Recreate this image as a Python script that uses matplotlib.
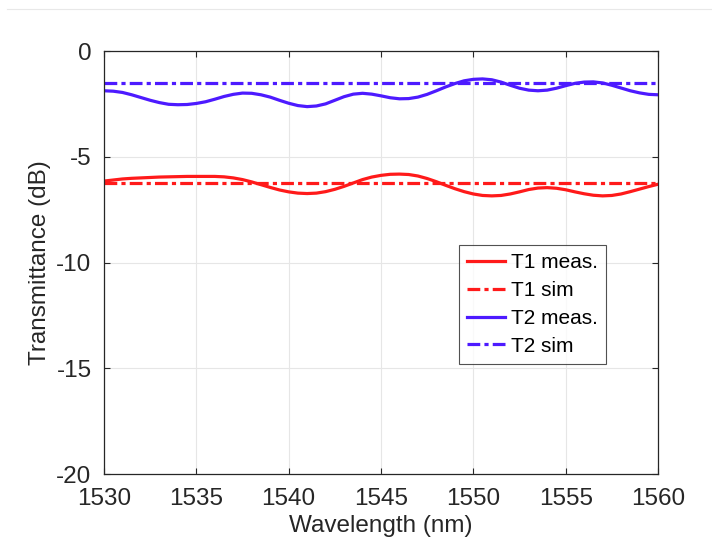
import matplotlib
matplotlib.use("Agg")
import matplotlib.pyplot as plt
from matplotlib.lines import Line2D
import numpy as np

# Wavelength grid (nm), values every 0.5 nm
wavelength = np.arange(1530, 1560.25, 0.5)

t1_meas = [-6.15, -6.10, -6.05, -6.02, -6.00, -5.98, -5.96, -5.95, -5.94, -5.93,
           -5.93, -5.93, -5.93, -5.95, -6.00, -6.08, -6.19, -6.32, -6.45, -6.57,
           -6.66, -6.72, -6.74, -6.72, -6.65, -6.54, -6.40, -6.24, -6.08, -5.96,
           -5.88, -5.83, -5.82, -5.84, -5.91, -6.03, -6.18, -6.35, -6.51, -6.65,
           -6.76, -6.83, -6.85, -6.83, -6.76, -6.66, -6.55, -6.48, -6.46, -6.49,
           -6.56, -6.66, -6.75, -6.82, -6.85, -6.83, -6.76, -6.65, -6.53, -6.41,
           -6.30]
t2_meas = [-1.88, -1.90, -1.96, -2.07, -2.20, -2.33, -2.44, -2.52, -2.54, -2.53,
           -2.48, -2.40, -2.28, -2.15, -2.05, -1.99, -2.00, -2.07, -2.18, -2.33,
           -2.47, -2.58, -2.63, -2.60, -2.50, -2.33, -2.16, -2.04, -2.00, -2.04,
           -2.12, -2.21, -2.26, -2.25, -2.18, -2.05, -1.88, -1.70, -1.54, -1.41,
           -1.34, -1.32, -1.36, -1.47, -1.62, -1.76, -1.85, -1.88, -1.85, -1.76,
           -1.64, -1.53, -1.47, -1.46, -1.51, -1.62, -1.75, -1.88, -1.98, -2.05,
           -2.07]
t1_sim = -6.25
t2_sim = -1.50

x_ticks = [1530, 1535, 1540, 1545, 1550, 1555, 1560]
y_ticks = [-20, -15, -10, -5, 0]

RED = "#ff1a1a"
BLUE = "#4d1aff"
DASHDOT = (0, (4, 1.3, 1.3, 1.3))

plt.rcParams["font.family"] = ["Liberation Sans", "DejaVu Sans"]

fig = plt.figure(figsize=(7.12, 5.48), dpi=100)
ax = fig.add_axes([104 / 712, 1 - 474 / 548, 554 / 712, 423 / 548])

lw = 2.3
ax.plot(wavelength, t1_meas, color=RED, lw=lw, label="T1 meas.")
ax.plot([wavelength[0], wavelength[-1]], [t1_sim, t1_sim], color=RED, lw=lw,
        linestyle=DASHDOT, label="T1 sim")
ax.plot(wavelength, t2_meas, color=BLUE, lw=lw, label="T2 meas.")
ax.plot([wavelength[0], wavelength[-1]], [t2_sim, t2_sim], color=BLUE, lw=lw,
        linestyle=DASHDOT, label="T2 sim")

ax.set_xlim(1530, 1560)
ax.set_ylim(-20, 0)
ax.set_xticks(x_ticks)
ax.set_yticks(y_ticks)
ax.set_xticklabels([str(v) for v in x_ticks])
ax.set_yticklabels([str(v) for v in y_ticks])
ax.grid(True, color="#e6e6e6", lw=0.8)
ax.set_axisbelow(True)
ax.tick_params(direction="in", length=4, width=0.8, labelsize=17.5,
               colors="#262626", top=True, right=True)
ax.tick_params(axis="x", pad=10)
ax.tick_params(axis="y", pad=9)
for s in ax.spines.values():
    s.set_color("#262626")
    s.set_linewidth(0.9)

ax.set_xlabel("Wavelength (nm)", fontsize=17.5, color="#262626", labelpad=4)
ax.set_ylabel("Transmittance (dB)", fontsize=17.5, color="#262626", labelpad=4)

leg = ax.legend(loc="upper left", bbox_to_anchor=(355 / 554, 1 - 194 / 423),
                fontsize=15, frameon=True, fancybox=False, handlelength=1.8,
                handletextpad=0.3, borderpad=0.4, labelspacing=0.42,
                borderaxespad=0)
leg.get_frame().set_edgecolor("#262626")
leg.get_frame().set_linewidth(0.8)

# faint separator line at the top of the screenshot
fig.add_artist(Line2D([7 / 712, 1], [1 - 9 / 548, 1 - 9 / 548],
                      color="#e8e8e8", lw=0.8))

fig.savefig("out.png", dpi=100)
